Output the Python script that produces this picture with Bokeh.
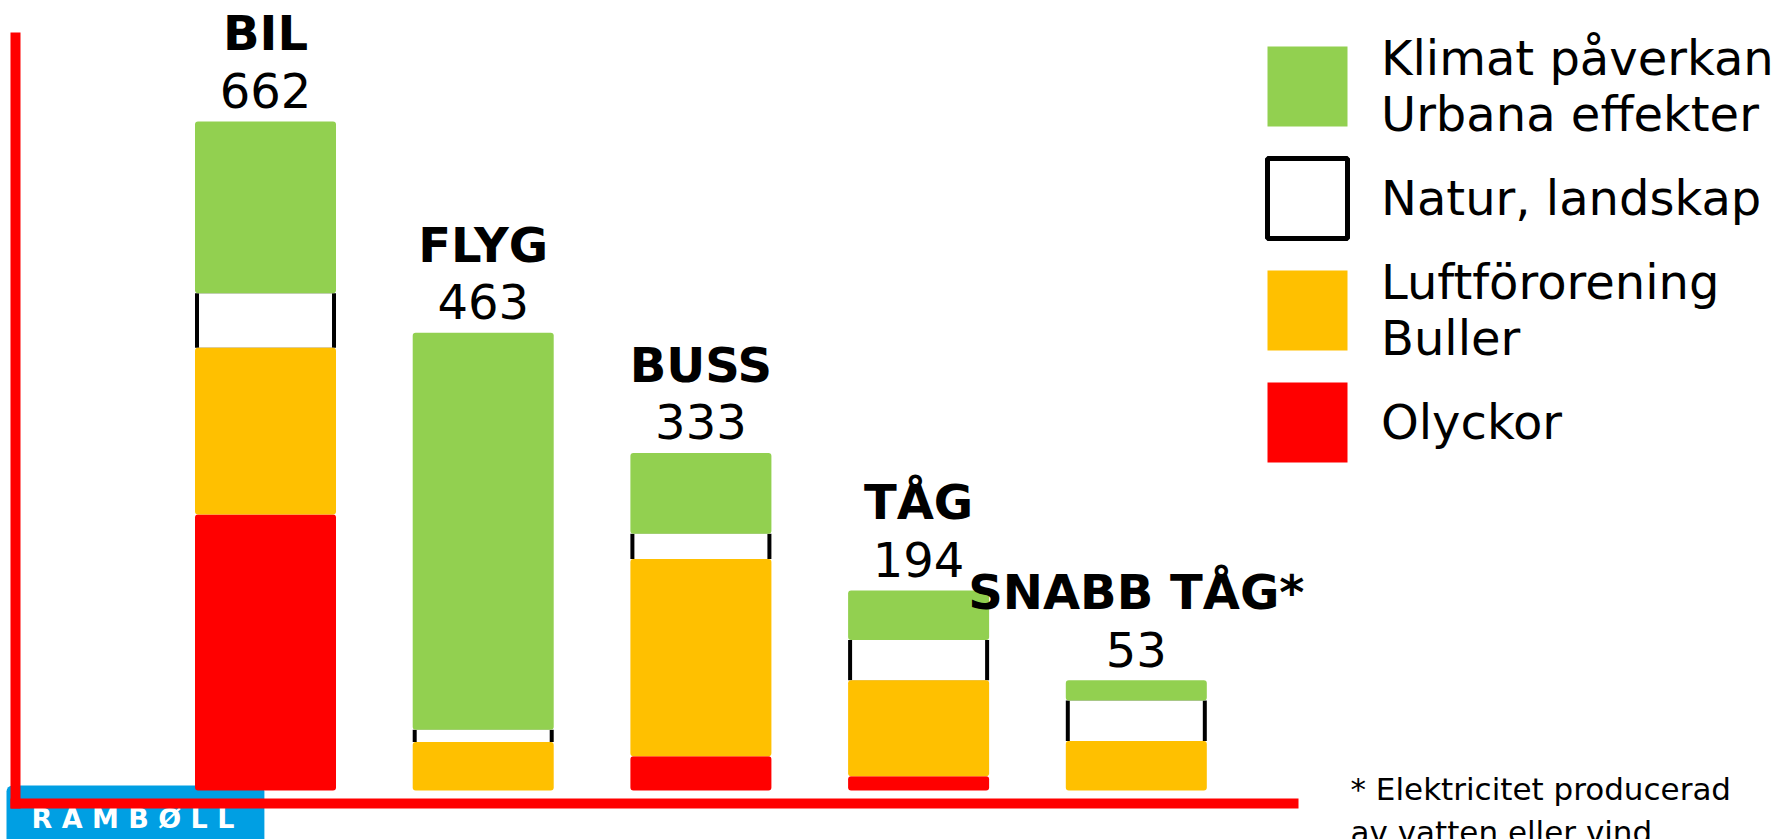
import numpy as np
from bokeh.plotting import figure
from bokeh.models import (ColumnDataSource, Range1d, Legend, LegendItem, Label,
                          FixedTicker)
from bokeh.transform import stack
from bokeh.core.properties import value
from bokeh.embed import file_html
from bokeh.resources import INLINE

# ---------------- data ----------------
categories = ["BIL", "FLYG", "BUSS", "TÅG", "SNABB TÅG*"]
total_labels = ["662", "463", "333", "194", "53"]
olyckor = [273, 0, 34, 14, 0]      # red (bottom)
luft = [165, 48, 195, 95, 49]      # orange
natur = [54, 12, 25, 40, 40]       # white with black sides
klimat = [170, 393, 80, 49, 20]    # green (top)

legend_labels = ["Klimat påverkan\nUrbana effekter", "Natur, landskap",
                 "Luftförorening\nBuller", "Olyckor"]
footnote = "* Elektricitet producerad\nav vatten eller vind"
logo_text = "R A M B Ø L L"

# ---------------- styles ----------------
GREEN = "#92D050"
ORANGE = "#FFC000"
RED = "#FF0000"
BLUE = "#009FE3"
FONT = "DejaVu Sans"

x = list(range(len(categories)))
tops = [a + b + c + d for a, b, c, d in zip(olyckor, luft, natur, klimat)]
src = ColumnDataSource(dict(x=x, name=categories, lab=total_labels, top=tops,
                            olyckor=olyckor, luft=luft, natur=natur, klimat=klimat))

p = figure(width=1781, height=839, output_backend="svg", toolbar_location=None,
           x_range=Range1d(-1.2173, 6.9637), y_range=Range1d(-48.5, 781.7),
           min_border_left=0, min_border_right=0, min_border_top=0,
           min_border_bottom=0)
p.outline_line_color = None
p.grid.visible = False
p.background_fill_color = "white"
p.border_fill_color = "white"

for ax in (p.xaxis[0], p.yaxis[0]):
    ax.ticker = FixedTicker(ticks=[])
    ax.major_tick_out = 0
    ax.major_tick_in = 0
    ax.minor_tick_out = 0
    ax.minor_tick_in = 0
    ax.major_label_text_font_size = "0px"
    ax.major_label_standoff = 0
    ax.axis_line_color = RED
    ax.axis_line_width = 10
    ax.axis_line_cap = "square"
p.xaxis[0].fixed_location = -12.86
p.yaxis[0].fixed_location = -1.1484
p.xaxis[0].bounds = (-1.1484, 4.7221)
p.yaxis[0].bounds = (-12.86, 745.1)

BW = 0.6477
# logo under the axes
logo = Label(x=6, y=54, x_units="screen", y_units="screen", text=logo_text,
             text_font=FONT, text_font_style="bold", text_font_size="27px",
             text_color="white", text_baseline="top",
             background_fill_color=BLUE, border_radius=6,
             padding=dict(left=25, right=30, top=17, bottom=14), level="underlay")
p.add_layout(logo)

# white segment with black sides
p.vbar(x="x", width=BW, bottom=stack("olyckor", "luft"),
       top=stack("olyckor", "luft", "natur"), source=src,
       fill_color="black", line_color=None)
p.vbar(x="x", width=BW - 0.0367, bottom=stack("olyckor", "luft"),
       top=stack("olyckor", "luft", "natur"), source=src,
       fill_color="white", line_color=None)
r_red = p.vbar(x="x", width=BW, bottom=0, top=stack("olyckor"), source=src,
               fill_color=RED, line_color=None, border_radius=3)
r_or = p.vbar(x="x", width=BW, bottom=stack("olyckor"), top=stack("olyckor", "luft"),
              source=src, fill_color=ORANGE, line_color=None, border_radius=3)
r_gr = p.vbar(x="x", width=BW, bottom=stack("olyckor", "luft", "natur"),
              top=stack("olyckor", "luft", "natur", "klimat"), source=src,
              fill_color=GREEN, line_color=None, border_radius=3)
# legend-only renderer for the white category (NaN -> nothing drawn)
r_wh = p.vbar(x=[0], width=BW, top=[float("nan")], bottom=[float("nan")],
              fill_color="white", line_color="black", line_width=5)

p.text(x="x", y="top", text="name", source=src, text_font=value(FONT),
       text_font_style="bold", text_font_size="48px", text_align="center",
       text_baseline="alphabetic", y_offset=-88, text_color="black")
p.text(x="x", y="top", text="lab", source=src, text_font=value(FONT),
       text_font_size="48px", text_align="center",
       text_baseline="alphabetic", y_offset=-31, text_color="black")

legend = Legend(items=[LegendItem(label=legend_labels[0], renderers=[r_gr]),
                       LegendItem(label=legend_labels[1], renderers=[r_wh]),
                       LegendItem(label=legend_labels[2], renderers=[r_or]),
                       LegendItem(label=legend_labels[3], renderers=[r_red])],
                location=(1257, 367), glyph_width=100, glyph_height=100,
                label_standoff=24, spacing=6, padding=0, margin=0,
                border_line_color=None, background_fill_alpha=0,
                label_text_font=FONT, label_text_font_size="48px",
                label_text_color="black", label_text_line_height=1.2)
p.add_layout(legend)

note = Label(x=1350, y=69, x_units="screen", y_units="screen", text=footnote,
             text_font=FONT, text_font_size="31px", text_baseline="top",
             text_line_height=1.2, text_color="black")
p.add_layout(note)

open("out.html", "w").write(file_html(p, INLINE))
